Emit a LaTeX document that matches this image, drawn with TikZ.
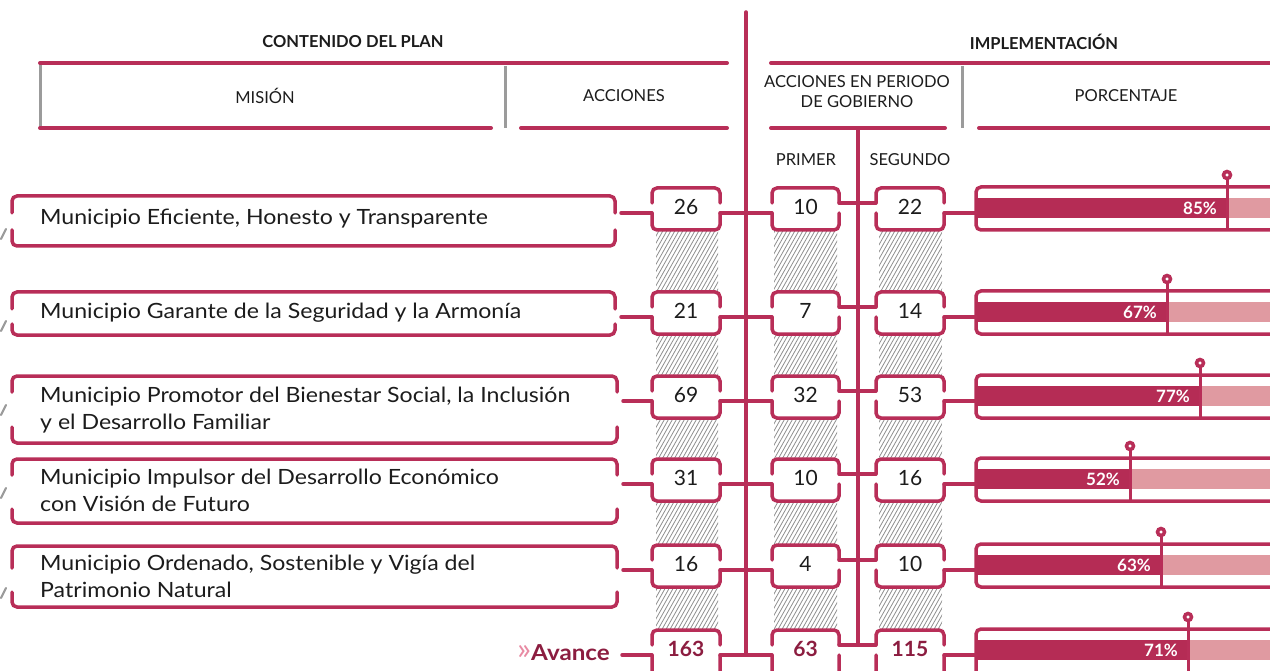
\documentclass[tikz,border=0pt]{standalone}
\usepackage{fontspec}
\setmainfont{Lato}
\newfontfamily\widefont[FakeStretch=1.1]{Lato}
\usetikzlibrary{calc}
\definecolor{crim}{HTML}{B82E58}
\definecolor{bardark}{HTML}{B52C55}
\definecolor{barlight}{HTML}{E09AA1}
\definecolor{maroon}{HTML}{8C1D40}
\definecolor{chev}{HTML}{E88AA3}
\definecolor{grayline}{HTML}{9B9B9B}
\definecolor{hatchgray}{HTML}{8F8F8F}
\definecolor{txt}{HTML}{1C1C1C}
\tikzset{
  pkbrk/.style={draw=crim, line width=3.5pt, line cap=round, rounded corners=5pt},
  pkline/.style={draw=crim, line width=3.5pt, line cap=round},
  hdrline/.style={draw=crim, line width=4pt, line cap=round},
  grline/.style={draw=grayline, line width=3pt},
  hatchln/.style={draw=hatchgray, line width=0.8pt},
  boxshape/.style={fill=white, inner sep=0pt, outer sep=0pt, minimum height=42pt},
  numtxt/.style={inner sep=0pt, text=txt, font=\fontsize{21}{24}\selectfont},
  mtxt/.style={inner sep=0pt, anchor=west, align=left, text=txt, font=\widefont\fontsize{21}{27}\selectfont},
  hdr/.style={inner sep=0pt, text=txt, font=\fontsize{16.5}{20}\selectfont},
  hdrb/.style={inner sep=0pt, text=txt, font=\bfseries\fontsize{16.5}{20}\selectfont},
  pcttxt/.style={inner sep=0pt, anchor=east, text=white, font=\bfseries\fontsize{17}{18}\selectfont},
  tick/.style={draw=grayline, line width=2.2pt, line cap=round}
}
% name, l, r, T, B, g1, g2
\newcommand\missionbox[7]{%
  \node[inner sep=0pt, outer sep=0pt, minimum width={#3-#2}, minimum height={#5-#4}] (#1) at ({(#2+#3)/2},{(#4+#5)/2}) {};
  \draw[pkbrk] (#2,#6) -- (#2,#4) -- (#3,#4) -- (#3,#6);
  \draw[pkbrk] (#2,#7) -- (#2,#5) -- (#3,#5) -- (#3,#7);
}
% name, cx, top, width, height, text
\newcommand\numbox[6]{%
  \node[boxshape, minimum width=#4pt, minimum height=#5pt] (#1) at (#2,{#3+#5/2}) {};
  \node[numtxt] (#1t) at (#2,#3+19) {#6};
  \draw[pkbrk] ($(#1.north west)+(0,15)$) -- (#1.north west) -- (#1.north east) -- ($(#1.north east)+(0,15)$);
  \draw[pkbrk] ($(#1.north west)+(0,25)$) -- (#1.south west) -- (#1.south east) -- ($(#1.north east)+(0,25)$);
}
% name, T, markerx, text, height
\newcommand\pctbox[5]{%
  \node[draw=crim, line width=3.5pt, rounded corners=5pt, inner sep=0pt, outer sep=0pt, minimum width=330pt, minimum height=#5pt, anchor=north west] (#1) at (976,#2-1) {};
  \fill[bardark] (975,#2+10) rectangle (#3,#2+30);
  \fill[barlight] (#3,#2+10) rectangle (1310,#2+30);
  \draw[pkline, line width=3pt, line cap=butt] (#3,#2-13) -- (#3,{#2-1+#5});
  \draw[draw=crim, line width=3.5pt, fill=white] (#3,#2-13) circle (3.5pt);
  \node[pcttxt] (#1t) at (#3-10,#2+20) {#4};
}
\begin{document}
\begin{tikzpicture}[x=1pt,y=-1pt]
\useasboundingbox (0,0) rectangle (1270,671);
\clip (0,0) rectangle (1270,671);

% header
\node[hdrb] (hplan) at (353,42) {CONTENIDO DEL PLAN};
\node[hdrb] (himpl) at (1044,42) {IMPLEMENTACIÓN};
\draw[grline] (40,63) -- (40,128);
\draw[grline] (505,66) -- (505,128);
\draw[grline] (962,66) -- (962,128);
\draw[hdrline] (40,63) -- (727,63);
\draw[hdrline] (40,128) -- (491,128);
\draw[hdrline] (521,128) -- (727,128);
\draw[hdrline] (771,63) -- (1290,63);
\draw[hdrline] (771,128) -- (945,128);
\draw[hdrline] (979,128) -- (1290,128);
\node[hdr] (hmision) at (265,96) {MISIÓN};
\node[hdr] (hacc) at (624,96) {ACCIONES};
\node[hdr, align=center] (hper) at (857,92) {ACCIONES EN PERIODO\\DE GOBIERNO};
\node[hdr] (hpct) at (1126,96) {PORCENTAJE};
\node[hdr] (hprim) at (806,160) {PRIMER};
\node[hdr] (hseg) at (910,160) {SEGUNDO};

% hatch
\begin{scope}
\clip (656,230) rectangle (718,632) (774,230) rectangle (837,632) (879,230) rectangle (942,632);
\foreach \i in {0,...,140} \draw[hatchln] ({400+4*\i},640) -- ++(237,-420);
\end{scope}

% row coordinates
\coordinate (lo1) at (0,213); \coordinate (up1) at (0,203);
\coordinate (lo2) at (0,317); \coordinate (up2) at (0,307);
\coordinate (lo3) at (0,401); \coordinate (up3) at (0,391);
\coordinate (lo4) at (0,484); \coordinate (up4) at (0,474);
\coordinate (lo5) at (0,570); \coordinate (up5) at (0,560);
\coordinate (lo6) at (0,655); \coordinate (up6) at (0,645);

% vertical spines
\coordinate (vtop) at (746,12);
\coordinate (v2top) at (858,128);
\draw[pkline] (vtop) -- (vtop |- lo6);
\draw[pkline] (v2top) -- (v2top |- up6);

% mission boxes
\missionbox{mb1}{12}{615}{196}{246}{213}{230}
\missionbox{mb2}{12}{615}{292}{335}{309}{324}
\missionbox{mb3}{12}{617}{376}{443}{392}{427}
\missionbox{mb4}{12}{617}{459}{523}{475}{509}
\missionbox{mb5}{12}{617}{546}{607}{568}{592}
\node[mtxt] (mt1) at (40,219) {Municipio Eficiente, Honesto y Transparente};
\node[mtxt] (mt2) at (40,313) {Municipio Garante de la Seguridad y la Armonía};
\node[mtxt] (mt3) at (40,410.5) {Municipio Promotor del Bienestar Social, la Inclusión\\y el Desarrollo Familiar};
\node[mtxt] (mt4) at (40,490.5) {Municipio Impulsor del Desarrollo Económico\\con Visión de Futuro};
\node[mtxt] (mt5) at (40,576.5) {Municipio Ordenado, Sostenible y Vigía del\\Patrimonio Natural};
\draw[tick] (1,239) -- (6,229);
\draw[tick] (1,331) -- (6,321);
\draw[tick] (1,415) -- (6,405);
\draw[tick] (1,498) -- (6,488);
\draw[tick] (1,598) -- (6,588);

% avance label
\node[inner sep=0pt, anchor=east, text=maroon, font=\widefont\bfseries\fontsize{22}{24}\selectfont] (av) at (610,653) {\textcolor{chev}{\mdseries\fontsize{30}{30}\selectfont\raisebox{1.5pt}{»}}Avance};

% number boxes
\numbox{a1}{686}{188}{68}{42}{26}
\numbox{p1}{805.5}{188}{67}{42}{10}
\numbox{s1}{910}{188}{68}{42}{22}
\numbox{a2}{686}{292}{68}{42}{21}
\numbox{p2}{805.5}{292}{67}{42}{7}
\numbox{s2}{910}{292}{68}{42}{14}
\numbox{a3}{686}{376}{68}{42}{69}
\numbox{p3}{805.5}{376}{67}{42}{32}
\numbox{s3}{910}{376}{68}{42}{53}
\numbox{a4}{686}{459}{68}{42}{31}
\numbox{p4}{805.5}{459}{67}{42}{10}
\numbox{s4}{910}{459}{68}{42}{16}
\numbox{a5}{686}{545}{68}{42}{16}
\numbox{p5}{805.5}{545}{67}{42}{4}
\numbox{s5}{910}{545}{68}{42}{10}
\numbox{a6}{686}{630}{68}{60}{\bfseries\color{maroon}163}
\numbox{p6}{805.5}{630}{67}{60}{\bfseries\color{maroon}63}
\numbox{s6}{910}{630}{68}{60}{\bfseries\color{maroon}115}

% percentage boxes
\pctbox{pc1}{188}{1227}{85\%}{43}
\pctbox{pc2}{292}{1167}{67\%}{43}
\pctbox{pc3}{376}{1200}{77\%}{43}
\pctbox{pc4}{459}{1130}{52\%}{43}
\pctbox{pc5}{545}{1161}{63\%}{43}
\pctbox{pc6}{630}{1188}{71\%}{60}

% connectors
\foreach \r in {1,...,5} {
  \draw[pkline] ($(mb\r.east |- lo\r)+(6,0)$) -- (a\r.west |- lo\r);
}
\draw[pkline] ($(av.east |- lo6)+(12,0)$) -- (a6.west |- lo6);
\foreach \r in {1,...,6} {
  \draw[pkline] (a\r.east |- lo\r) -- (p\r.west |- lo\r);
  \draw[pkline] (p\r.east |- up\r) -- (s\r.west |- up\r);
  \draw[pkline] (s\r.east |- lo\r) -- (pc\r.west |- lo\r);
}
\end{tikzpicture}
\end{document}
